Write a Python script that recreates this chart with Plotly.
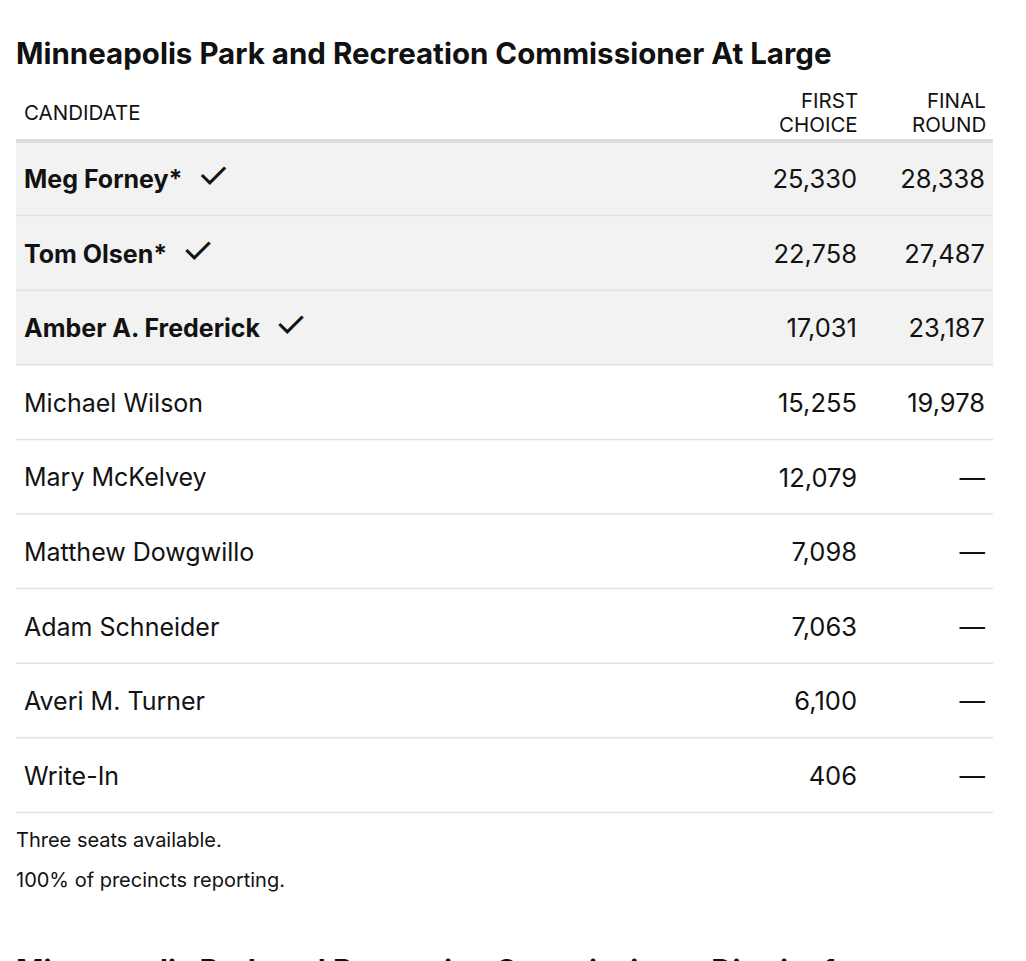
import plotly.graph_objects as go

# ---------------- data ----------------
title = "Minneapolis Park and Recreation Commissioner At Large"
next_title = "Minneapolis Park and Recreation Commissioner District 1"
col_candidate = "CANDIDATE"
col_first = ["FIRST", "CHOICE"]
col_final = ["FINAL", "ROUND"]
candidates = ["Meg Forney*", "Tom Olsen*", "Amber A. Frederick", "Michael Wilson",
              "Mary McKelvey", "Matthew Dowgwillo", "Adam Schneider",
              "Averi M. Turner", "Write-In"]
first_choice = [25330, 22758, 17031, 15255, 12079, 7098, 7063, 6100, 406]
final_round = [28338, 27487, 23187, 19978, None, None, None, None, None]
elected = [True, True, True, False, False, False, False, False, False]
notes = ["Three seats available.", "100% of precincts reporting."]

# ---------------- layout constants (pixels) ----------------
W, H = 1026, 961
TABLE_L, TABLE_R = 16, 993
HEADER_BOTTOM = 141
ROW_H = 74.6
NAME_X = 24
FIRST_X = 857
FINAL_X = 985
ANN_PAD = 2.5
TEXT_DY = 3.5 / ROW_H
HEADER_LINES_PX = [100, 124]
FONT = "Inter, 'Noto Sans', 'DejaVu Sans', sans-serif"
TEXT = "#121212"

n = len(candidates)
y_top = -HEADER_BOTTOM / ROW_H - 0.5
y_bot = (H - HEADER_BOTTOM) / ROW_H - 0.5
rows = list(range(n))
text_rows = [r + TEXT_DY for r in rows]


def py(px):
    """pixel (from top) -> row-unit y"""
    return (px - HEADER_BOTTOM) / ROW_H - 0.5


def fmt(v):
    return "—" if v is None else f"{v:,}"


CHECK = "<span style='font-size:37px'>✓</span>"
name_text = [f"<b>{c}</b>  {CHECK}" if e else c for c, e in zip(candidates, elected)]

fig = go.Figure()
fig.add_trace(go.Scatter(
    x=[NAME_X] * n, y=text_rows, mode="text", text=name_text,
    textposition="middle right", cliponaxis=False, hoverinfo="skip",
    textfont=dict(family=FONT, size=25, color=TEXT)))
fig.add_trace(go.Scatter(
    x=[FIRST_X] * n, y=text_rows, mode="text", text=[fmt(v) for v in first_choice],
    textposition="middle left", cliponaxis=False, hoverinfo="skip",
    textfont=dict(family=FONT, size=25.5, color=TEXT)))
fig.add_trace(go.Scatter(
    x=[FINAL_X] * n, y=text_rows, mode="text", text=[fmt(v) for v in final_round],
    textposition="middle left", cliponaxis=False, hoverinfo="skip",
    textfont=dict(family=FONT, size=25.5, color=TEXT)))

shapes = []
for i, e in enumerate(elected):
    if e:
        shapes.append(dict(type="rect", xref="x", yref="y", x0=TABLE_L, x1=TABLE_R,
                           y0=i - 0.5, y1=i + 0.5, fillcolor="#f2f2f2",
                           line=dict(width=0), layer="below"))
for i in range(n):
    shapes.append(dict(type="line", xref="x", yref="y", x0=TABLE_L, x1=TABLE_R,
                       y0=i + 0.5, y1=i + 0.5, line=dict(color="#e2e2e2", width=1.5)))
shapes.append(dict(type="line", xref="x", yref="y", x0=TABLE_L, x1=TABLE_R,
                   y0=-0.5, y1=-0.5, line=dict(color="#dddddd", width=4)))


def ann(text, x, ypx, xanchor, size, yanchor="middle", color=TEXT):
    return dict(text=text, x=x, y=py(ypx), xref="x", yref="y", xanchor=xanchor,
                yanchor=yanchor, align=xanchor, showarrow=False,
                font=dict(family=FONT, size=size, color=color))


annotations = [
    ann(f"<b>{title}</b>", TABLE_L - ANN_PAD, 53, "left", 29.5, color="#111111"),
    ann(col_candidate, NAME_X - ANN_PAD, 112, "left", 20.5),
    ann(notes[0], TABLE_L - ANN_PAD, 840, "left", 20),
    ann(notes[1], TABLE_L - ANN_PAD, 880, "left", 20),
    ann(f"<b>{next_title}</b>", TABLE_L - ANN_PAD, 950, "left", 29.5,
        yanchor="top", color="#111111"),
]
for line, ypx in zip(col_first, HEADER_LINES_PX):
    annotations.append(ann(line, FIRST_X + ANN_PAD, ypx, "right", 20.5))
for line, ypx in zip(col_final, HEADER_LINES_PX):
    annotations.append(ann(line, FINAL_X + ANN_PAD, ypx, "right", 20.5))

fig.update_layout(
    width=W, height=H, margin=dict(l=0, r=0, t=0, b=0),
    paper_bgcolor="white", plot_bgcolor="white", showlegend=False,
    xaxis=dict(range=[0, W], visible=False, fixedrange=True),
    yaxis=dict(range=[y_bot, y_top], visible=False, fixedrange=True),
    shapes=shapes, annotations=annotations,
)

fig.write_html("out.html", config={"displayModeBar": False},
               post_script="document.body.style.margin='0';document.body.style.overflow='hidden';")
